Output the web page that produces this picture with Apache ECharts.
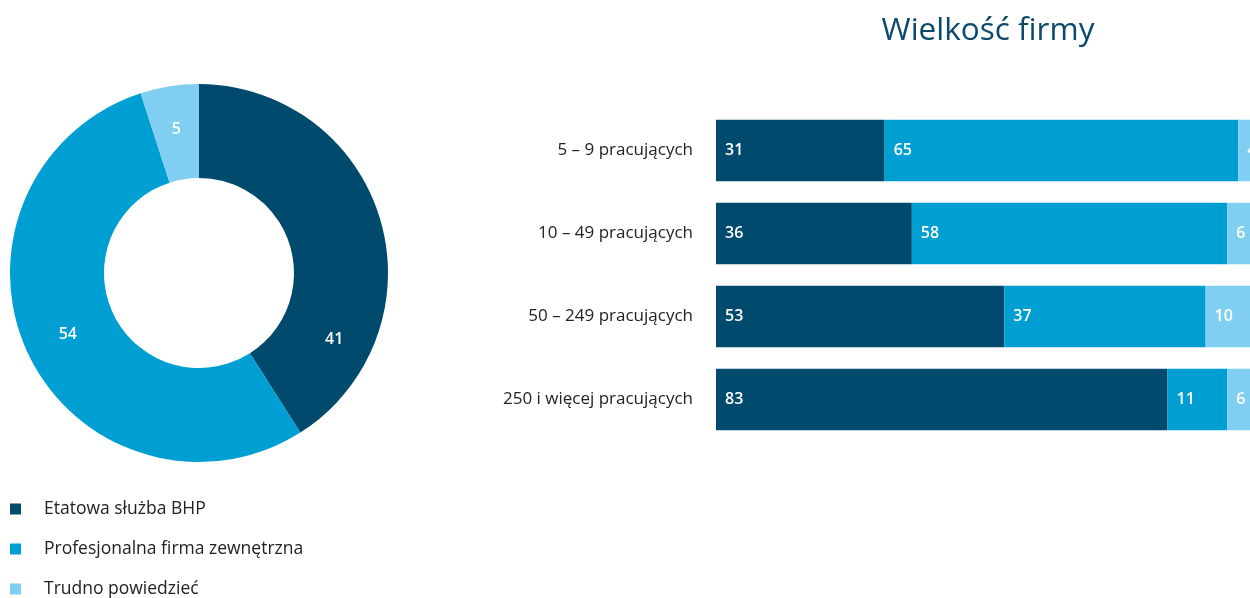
<!DOCTYPE html>
<html>
<head>
<meta charset="utf-8">
<script src="https://cdn.jsdelivr.net/npm/echarts@6/dist/echarts.min.js"></script>
<style>
  html, body { margin: 0; padding: 0; background: #ffffff; }
  #chart { width: 1250px; height: 598px; }
</style>
</head>
<body>
<div id="chart"></div>
<script>
// Overall split of who handles health & safety
const pieNames = ['Etatowa służba BHP', 'Profesjonalna firma zewnętrzna', 'Trudno powiedzieć'];
const pieValues = [41, 54, 5];

// Breakdown by company size
const sizeCategories = ['5 – 9 pracujących', '10 – 49 pracujących', '50 – 249 pracujących', '250 i więcej pracujących'];
const etatowa = [31, 36, 53, 83];
const zewnetrzna = [65, 58, 37, 11];
const trudno = [4, 6, 10, 6];

const colors = ['#004a6d', '#009fd3', '#80cff3'];
const FONT = '"Open Sans", "Noto Sans", sans-serif';

const chart = echarts.init(document.getElementById('chart'), null, { renderer: 'canvas' });

const barSeries = [etatowa, zewnetrzna, trudno].map((vals, i) => ({
  name: pieNames[i],
  type: 'bar',
  stack: 'total',
  xAxisIndex: 0,
  yAxisIndex: 0,
  barCategoryGap: '26%',
  itemStyle: { color: colors[i] },
  label: {
    show: true,
    position: 'insideLeft',
    distance: 9,
    color: '#ffffff',
    fontFamily: FONT,
    fontWeight: 600,
    fontSize: 16
  },
  data: vals
}));

chart.setOption({
  animation: false,
  textStyle: { fontFamily: FONT },
  title: {
    text: 'Wielkość firmy',
    left: 983,
    top: 10,
    textAlign: 'center',
    textStyle: { fontFamily: FONT, fontSize: 31.5, fontWeight: 'normal', color: '#0b4a6c' }
  },
  legend: {
    orient: 'vertical',
    left: 10,
    top: 499,
    height: 150,
    padding: 0,
    icon: 'rect',
    itemWidth: 11,
    itemHeight: 11,
    itemGap: 20,
    data: pieNames,
    textStyle: { fontFamily: FONT, fontSize: 17.5, color: '#222222', padding: [0, 0, 0, 18], lineHeight: 20 }
  },
  grid: { left: 716, top: 109, width: 544, height: 332, outerBoundsMode: 'none', containLabel: false },
  xAxis: { type: 'value', min: 0, max: 100, show: false },
  yAxis: {
    type: 'category',
    inverse: true,
    data: sizeCategories,
    axisLine: { show: false },
    axisTick: { show: false },
    axisLabel: { margin: 23, fontFamily: FONT, fontSize: 17, color: '#222222' }
  },
  series: [
    {
      name: 'Ogółem',
      type: 'pie',
      center: [199, 273],
      radius: [95, 189],
      startAngle: 90,
      clockwise: true,
      avoidLabelOverlap: false,
      label: {
        show: true,
        position: 'inside',
        formatter: '{c}',
        color: '#ffffff',
        fontFamily: FONT,
        fontWeight: 600,
        fontSize: 16
      },
      labelLine: { show: false },
      emphasis: { disabled: true },
      data: pieValues.map((v, i) => ({
        name: pieNames[i],
        value: v,
        itemStyle: { color: colors[i] },
        label: i === 0 ? { offset: [-4, 107] } : {}
      }))
    },
    ...barSeries
  ]
});
</script>
</body>
</html>
